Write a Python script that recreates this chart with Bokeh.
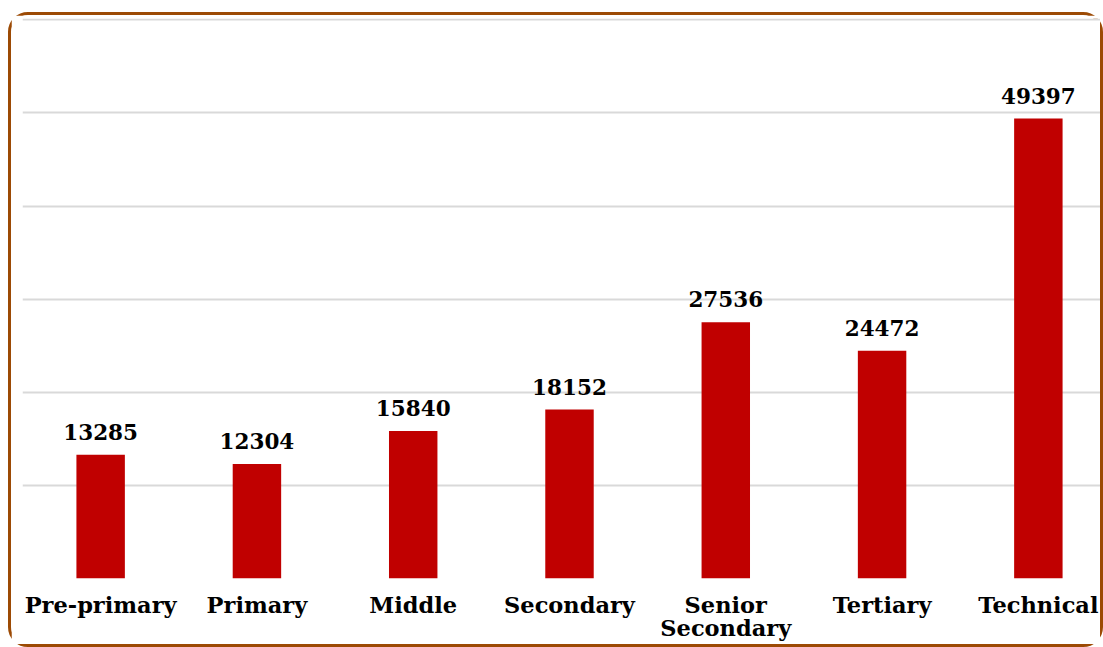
from bokeh.plotting import figure
from bokeh.models import Range1d, FixedTicker
from bokeh.core.properties import value
from bokeh.embed import file_html
from bokeh.resources import INLINE

categories = ["Pre-primary", "Primary", "Middle", "Secondary", "Senior\nSecondary", "Tertiary", "Technical"]
enrolment = [13285, 12304, 15840, 18152, 27536, 24472, 49397]
y_ticks = [0, 10000, 20000, 30000, 40000, 50000, 60000]

xs = [i + 0.5 for i in range(len(categories))]

p = figure(width=1095, height=635, output_backend="svg", toolbar_location=None,
           x_range=Range1d(0, 6.936), y_range=Range1d(0, 60150),
           min_border_left=11, min_border_right=0, min_border_top=3, min_border_bottom=72)
p.styles = {"border": "3px solid #9C4A04", "border-radius": "20px", "margin": "12px 0 0 8px"}
p.outline_line_color = None
p.background_fill_color = "white"
p.border_fill_color = "white"

p.vbar(x=xs, top=enrolment, width=0.31, fill_color="#C00000", line_color=None)
p.text(x=xs, y=enrolment, text=[str(v) for v in enrolment], text_align="center",
       text_baseline="alphabetic", y_offset=-23, text_font=value("DejaVu Serif"),
       text_font_style="bold", text_font_size="21.5px", text_color="black")

p.yaxis.visible = False
p.ygrid.ticker = FixedTicker(ticks=y_ticks)
p.ygrid.grid_line_color = "#D9D9D9"
p.ygrid.grid_line_width = 2
p.xgrid.visible = False

xa = p.xaxis[0]
xa.ticker = FixedTicker(ticks=xs)
xa.major_label_overrides = {x: c for x, c in zip(xs, categories)}
xa.axis_line_color = None
xa.major_tick_line_color = None
xa.minor_tick_line_color = None
xa.major_tick_in = 0
xa.major_tick_out = 0
xa.major_label_standoff = 13
xa.major_label_text_font = "DejaVu Serif"
xa.major_label_text_font_style = "bold"
xa.major_label_text_font_size = "22.5px"
xa.major_label_text_line_height = 0.92
xa.major_label_text_color = "black"

open("out.html", "w").write(file_html(p, INLINE))
